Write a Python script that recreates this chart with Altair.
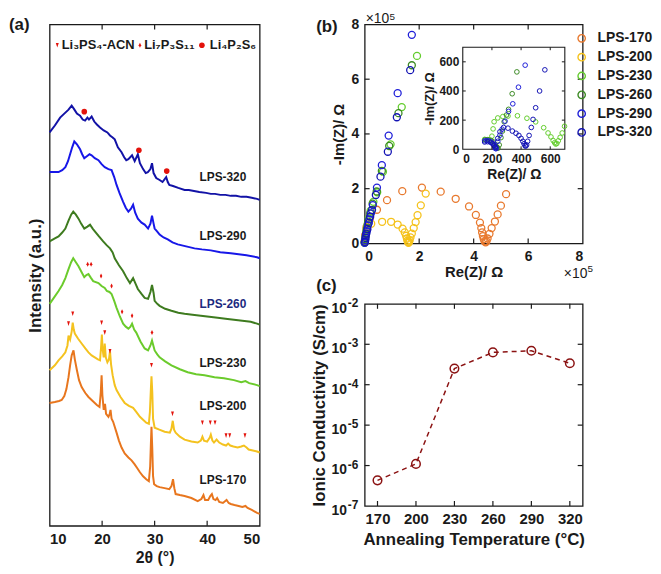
import altair as alt
import pandas as pd

FONT = "Liberation Sans"
INK = "#1a1a1a"
RED = "#E3120B"

# ---------------- (a) XRD patterns: (2theta, intensity a.u.) ----------------
xrd_series = ["LPS-170", "LPS-200", "LPS-230", "LPS-260", "LPS-290", "LPS-320"]
xrd_colors = ["#E8761E", "#F4C21F", "#6BCB2C", "#3E7B1F", "#1717E8", "#1212A6"]

lps170 = [(10.0,124),(11.0,125),(11.8,126),(12.3,127),(12.8,131),(13.2,138),(13.6,150),(13.9,162),(14.2,172),(14.55,177),(14.8,168),(15.2,157),(15.6,147),(16.1,140),(16.8,134),(17.4,130),(18.2,126),(19.0,122),(19.5,120),(19.75,135),(19.9,152),(20.05,132),(20.3,117),(20.55,123),(20.75,113),(21.2,110),(21.45,113),(21.6,117),(21.8,108),(22.1,105),(22.75,94),(23.2,86),(23.7,79),(24.3,73),(25.0,69),(25.6,66),(26.2,62),(26.7,58),(27.2,54),(27.8,50),(28.4,47),(28.9,45),(29.15,60),(29.3,85),(29.4,100),(29.55,78),(29.7,50),(29.9,42),(30.4,40),(30.95,39),(31.9,38),(32.8,37),(33.2,40),(33.5,47),(33.75,38),(34.0,32),(34.8,31),(35.7,30),(37.0,28),(38.2,25),(38.9,27),(39.3,31),(39.6,26),(40.2,26),(40.6,30),(40.9,32),(41.2,27),(41.6,26),(41.9,28),(42.3,24),(43.0,23),(43.7,26),(44.1,23),(44.5,22),(45.2,21),(46.0,20),(46.7,19),(47.3,20),(47.7,18),(48.5,16),(49.5,13),(50.0,12)]
lps200 = [(10.0,157),(11.0,162),(11.7,167),(12.4,171),(13.0,175),(13.4,182),(13.6,192),(13.9,188),(14.2,196),(14.4,205),(14.6,198),(14.8,194),(15.4,189),(16.1,184),(16.8,179),(17.4,175),(18.0,172),(18.6,170),(19.2,168),(19.6,167),(19.8,180),(19.95,193),(20.1,178),(20.3,170),(20.5,184),(20.7,170),(21.0,165),(21.3,168),(21.5,176),(21.7,163),(22.0,152),(22.4,142),(22.75,137),(23.5,130),(24.3,124),(25.1,121),(25.9,119),(26.5,115),(27.2,110),(27.8,107),(28.4,104),(28.9,103),(29.1,115),(29.3,140),(29.4,151),(29.55,135),(29.7,108),(30.0,99),(30.9,97),(31.9,95),(32.9,94),(33.2,98),(33.45,106),(33.7,97),(34.0,94),(34.8,90),(35.7,87),(37.0,85),(38.2,84),(38.8,86),(39.1,90),(39.4,86),(40.0,85),(40.5,89),(40.7,92),(41.0,86),(41.3,84),(41.8,87),(42.3,84),(43.0,82),(43.6,81),(44.0,83),(44.4,81),(45.0,80),(45.8,79),(46.5,80),(47.0,81),(47.5,79),(47.9,77),(48.7,76),(49.5,75),(50.0,74)]
lps230 = [(10.0,224),(10.8,230),(11.7,237),(12.4,243),(13.0,250),(13.6,259),(14.1,266),(14.5,270),(15.0,266),(15.5,262),(16.0,257),(16.6,251),(17.0,253),(17.4,254),(17.9,250),(18.3,247),(19.3,245),(19.9,242),(20.5,240),(20.9,237),(21.4,236),(21.8,234),(22.3,227),(22.75,220),(23.4,211),(24.0,204),(24.5,201),(25.0,199),(25.4,201),(25.7,204),(26.1,198),(26.5,195),(27.3,186),(28.1,179),(28.75,177),(29.2,182),(29.5,187),(29.8,181),(30.0,177),(30.5,173),(30.95,170),(32.0,166),(33.2,162),(34.8,158),(36.3,155),(37.9,153),(39.5,152),(41.4,150),(43.2,149),(45.1,147),(46.5,145),(47.3,146),(48.0,144),(49.5,142),(50.0,141)]
lps260 = [(10.0,287),(11.0,290),(11.7,292),(12.4,296),(13.0,300),(13.6,308),(14.1,314),(14.5,317),(15.0,314),(15.5,310),(16.0,305),(16.6,300),(17.2,302),(17.7,304),(18.2,300),(18.65,297),(19.4,292),(20.2,287),(20.9,283),(21.5,280),(22.0,276),(22.4,270),(23.2,263),(24.0,257),(24.7,250),(25.3,245),(25.9,250),(26.4,244),(26.8,239),(27.5,234),(28.1,230),(28.75,229),(29.2,236),(29.5,243),(29.8,235),(30.0,227),(30.5,224),(30.95,222),(32.0,219),(33.2,217),(34.5,215),(35.7,214),(37.2,213),(38.8,212),(40.4,211),(42.0,210),(43.5,209),(45.1,208),(46.7,207),(48.3,206),(49.5,204),(50.0,203)]
lps290 = [(10.0,357),(11.0,357),(11.7,357),(12.4,359),(13.0,362),(13.5,368),(13.9,375),(14.3,382),(14.7,388),(15.2,385),(15.8,380),(16.2,375),(16.6,371),(17.1,373),(17.6,375),(18.0,374),(18.6,371),(19.3,369),(19.9,365),(20.5,362),(21.2,360),(21.8,359),(22.3,352),(22.75,344),(23.3,336),(24.0,327),(24.5,321),(25.0,317),(25.5,320),(25.9,324),(26.3,316),(26.8,310),(27.5,306),(28.1,304),(28.75,300),(29.2,305),(29.5,313),(29.8,305),(30.0,300),(30.5,297),(30.95,294),(31.7,291),(32.5,289),(33.4,286),(34.4,284),(36.0,282),(37.6,280),(39.0,279),(40.7,278),(42.5,276),(44.5,275),(46.0,274),(47.5,273),(49.5,271),(50.0,270)]
lps320 = [(10.0,397),(11.0,404),(12.0,412),(13.0,417),(13.6,420),(14.2,424),(14.6,421),(15.2,416),(15.8,414),(16.3,410),(16.75,409),(17.2,412),(17.5,410),(18.0,413),(18.5,408),(19.0,405),(19.6,402),(20.3,399),(21.0,397),(21.5,394),(22.0,392),(22.4,390),(23.0,382),(23.7,377),(24.2,372),(24.6,369),(25.0,370),(25.7,374),(26.2,368),(26.8,375),(27.2,366),(27.8,360),(28.3,356),(28.7,357),(29.2,360),(29.5,366),(29.8,356),(30.3,351),(30.95,349),(31.5,347),(32.2,352),(32.5,347),(32.8,344),(33.5,343),(34.5,341),(35.7,339),(36.5,339),(37.5,338),(38.5,337),(39.8,336),(40.7,335),(41.5,335),(42.5,334),(43.5,334),(44.5,333),(45.5,333),(46.5,332),(47.5,332),(48.5,331),(49.5,330),(50.0,329)]
xrd_curves = [lps170, lps200, lps230, lps260, lps290, lps320]

xrd_label_theta = [43.0, 43.0, 43.0, 43.0, 43.0, 43.0]
xrd_label_y = [46, 121, 164, 224, 292, 352]
xrd_label_color = [INK, INK, INK, "#1c2a80", INK, INK]

tri_marks = [(13.6,204),(14.4,214),(19.9,205),(20.5,195),(21.5,176),(29.4,162),(33.4,113),(39.1,104),(40.6,104),(41.5,104),(43.6,91),(44.3,91),(47.2,91)]
dia_marks = [(17.25,264),(17.9,264),(19.8,252),(21.8,242),(23.8,216),(25.7,212),(29.5,195)]
dot_marks = [(16.6,418),(27.0,379),(32.3,358)]

phase_names = ["Li₃PS₄-ACN", "Li₇P₃S₁₁", "Li₄P₂S₆"]
phase_marker_theta = [11.46, 27.2, 39.0]
phase_text_theta = [12.3, 28.0, 40.5]
phase_row_y = [485, 485, 485]
a_tick_values = [20, 30, 40]

# ---------------- (b) Nyquist plots ----------------
eis_series = ["LPS-170", "LPS-200", "LPS-230", "LPS-260", "LPS-290", "LPS-320"]
eis_colors = ["#E8792E", "#F5C21B", "#63CC2D", "#3C8A24", "#1F1FD8", "#1414B4"]
# main plot, units of 1e5 ohm
b170 = [(0.00,0.08),(0.02,0.30),(0.07,0.60),(0.20,0.95),(0.45,1.23),(0.82,1.58),(1.38,1.91),(2.10,2.04),(2.79,1.89),(3.34,1.63),(3.83,1.35),(4.08,1.04),(4.23,0.76),(4.28,0.56),(4.31,0.40),(4.34,0.27),(4.37,0.16),(4.40,0.08),(4.44,0.04),(4.47,0.08),(4.51,0.18),(4.58,0.35),(4.66,0.56),(4.78,0.80),(4.88,1.06),(5.00,1.38),(5.19,1.80)]
b200 = [(0.00,0.05),(0.02,0.25),(0.06,0.50),(0.24,0.72),(0.64,0.79),(0.97,0.79),(1.21,0.69),(1.39,0.54),(1.47,0.40),(1.52,0.28),(1.55,0.18),(1.57,0.10),(1.59,0.05),(1.61,0.02),(1.63,0.06),(1.65,0.12),(1.68,0.22),(1.73,0.36),(1.80,0.56),(1.87,0.78),(1.94,1.03),(2.06,1.39),(2.24,1.82)]
b230 = [(0.00,0.02),(0.01,0.10),(0.03,0.25),(0.06,0.45),(0.10,0.68),(0.15,0.92),(0.22,1.20),(0.32,1.52),(0.46,1.87),(0.67,2.62),(0.95,3.62),(1.36,4.98),(1.92,6.85)]
b260 = [(0.00,0.03),(0.02,0.15),(0.05,0.35),(0.08,0.55),(0.13,0.80),(0.20,1.10),(0.29,1.45),(0.44,1.90),(0.63,2.65),(0.90,3.56),(1.24,4.76),(1.73,6.51)]
b290 = [(0.00,0.02),(0.02,0.12),(0.04,0.28),(0.08,0.45),(0.12,0.66),(0.17,0.88),(0.23,1.10),(0.30,1.40),(0.45,2.04),(0.63,2.86),(0.88,3.94),(1.21,5.49),(1.73,7.62)]
b320 = [(0.01,0.06),(0.03,0.20),(0.06,0.36),(0.10,0.52),(0.15,0.75),(0.20,0.98),(0.27,1.22),(0.41,1.77),(0.58,2.44),(0.85,3.35),(1.18,4.61),(1.67,6.33)]
eis_main = [b170, b200, b230, b260, b290, b320]
# inset, units of ohm
i230 = [(150,68),(170,66),(188,62),(200,90),(208,140),(215,189),(240,215),(275,225),(310,228),(375,230),(440,213),(500,188),(555,148),(585,112),(605,85),(620,60),(630,45),(638,36),(645,40),(655,58),(668,82),(682,112),(698,158)]
i260 = [(155,65),(175,65),(195,60),(210,50),(222,35),(230,20),(236,10),(242,8),(250,30),(262,80),(272,125),(284,189),(300,235),(314,274),(339,381),(371,531)]
i290 = [(150,58),(165,60),(180,57),(195,50),(207,38),(215,25),(220,14),(224,6),(228,4),(240,55),(255,97),(270,138),(290,193),(314,260),(343,312),(382,426),(428,577)]
i320 = [(150,50),(170,52),(190,48),(205,38),(215,28),(222,18),(228,12),(240,75),(255,120),(280,150),(310,145),(340,125),(365,110),(385,95),(400,75),(412,55),(420,38),(427,25),(432,22),(438,30),(445,55),(455,95),(470,150),(482,205),(500,285),(527,400),(563,545)]
eis_inset = {"LPS-230": i230, "LPS-260": i260, "LPS-290": i290, "LPS-320": i320}
b_tick_values = [2, 4, 6]
inset_domain = [0, 700]
inset_tick_values = [200, 400, 600]

# ---------------- (c) conductivity ----------------
temps = [170, 200, 230, 260, 290, 320]
sigma = [4.3e-7, 1.1e-6, 2.5e-4, 6.3e-4, 6.9e-4, 3.4e-4]
decades = [1e-7, 1e-6, 1e-5, 1e-4, 1e-3, 1e-2]
decade_exps = ["-7", "-6", "-5", "-4", "-3", "-2"]
c_inner_decades = [1e-6, 1e-5, 1e-4, 1e-3]

# ======================= build =======================
W_A, H_A = 212, 506
W_B, H_B = 220, 221
W_C, H_C = 220, 204
IN_L, IN_R, IN_B, IN_T = 99, 202, 126, 23   # inset frame inside panel (b)

TRI = "M-0.38,-0.6L0.38,-0.6L0,0.6Z"
DIA = "M0,-0.65L0.32,0L0,0.65L-0.32,0Z"

# ---- panel (a)
df_xrd = pd.DataFrame([{"s": n, "th": t, "inten": v} for n, c in zip(xrd_series, xrd_curves) for t, v in c])
sx_a = alt.Scale(domain=[10, 50], nice=False, zero=False)
sy_a = alt.Scale(domain=[0, H_A], nice=False, zero=False)
xa = alt.X("th:Q", scale=sx_a, axis=alt.Axis(values=[10, 20, 30, 40, 50], title="2θ (°)",
           labelFontSize=15, titleFontSize=16, labelPadding=6, titlePadding=3))
ya = alt.Y("inten:Q", scale=sy_a, axis=alt.Axis(labels=False, title="Intensity (a.u.)",
           titleFontSize=17, titlePadding=5))

a_lines = alt.Chart(df_xrd).mark_line(strokeWidth=2).encode(
    x=xa, y=ya,
    color=alt.Color("s:N", scale=alt.Scale(domain=xrd_series, range=xrd_colors), legend=None))

df_tri = pd.DataFrame([{"th": t, "inten": v} for t, v in tri_marks] +
                      [{"th": phase_marker_theta[0], "inten": phase_row_y[0]}])
df_dia = pd.DataFrame([{"th": t, "inten": v} for t, v in dia_marks] +
                      [{"th": phase_marker_theta[1], "inten": phase_row_y[1]}])
df_dot = pd.DataFrame([{"th": t, "inten": v} for t, v in dot_marks] +
                      [{"th": phase_marker_theta[2], "inten": phase_row_y[2]}])
a_tri = alt.Chart(df_tri).mark_point(shape=TRI, filled=True, color=RED, size=60, opacity=1, strokeWidth=0).encode(x=xa, y=ya)
a_dia = alt.Chart(df_dia).mark_point(shape=DIA, filled=True, color=RED, size=60, opacity=1, strokeWidth=0).encode(x=xa, y=ya)
a_dot = alt.Chart(df_dot).mark_point(shape="circle", filled=True, color=RED, size=32, opacity=1, strokeWidth=0).encode(x=xa, y=ya)

df_phase = pd.DataFrame({"th": phase_text_theta, "inten": phase_row_y, "t": phase_names})
a_phase = alt.Chart(df_phase).mark_text(align="left", baseline="middle", fontSize=13, fontWeight="bold", color=INK).encode(
    x=xa, y=ya, text="t:N")

df_alab = pd.DataFrame({"th": xrd_label_theta, "inten": xrd_label_y, "t": xrd_series, "c": xrd_label_color})
a_labels = alt.Chart(df_alab).mark_text(align="center", baseline="middle", fontSize=12, fontWeight="bold").encode(
    x=xa, y=ya, text="t:N", color=alt.Color("c:N", scale=None))

df_atk = pd.DataFrame({"th": a_tick_values})
a_tk_b = alt.Chart(df_atk).mark_rule(color=INK, strokeWidth=1.2).encode(x=xa, y=alt.value(H_A), y2=alt.value(H_A - 5))
a_tk_t = alt.Chart(df_atk).mark_rule(color=INK, strokeWidth=1.2).encode(x=xa, y=alt.value(0), y2=alt.value(5))
a_tag = alt.Chart(pd.DataFrame({"t": ["(a)"]})).mark_text(align="left", baseline="middle", fontSize=17, fontWeight="bold", color=INK).encode(
    x=alt.value(-41), y=alt.value(1), text="t:N")

panel_a = alt.layer(a_lines, a_tri, a_dia, a_dot, a_phase, a_labels, a_tk_b, a_tk_t, a_tag).properties(width=W_A, height=H_A)

# ---- panel (b)
df_b = pd.DataFrame([{"s": n, "x": x, "y": y} for n, pts in zip(eis_series, eis_main) for x, y in pts])
df_bi = pd.DataFrame([{"s": n, "x": x, "y": y} for n, pts in eis_inset.items() for x, y in pts])

xb = alt.X("x:Q", scale=alt.Scale(domain=[0, 8], nice=False, zero=False),
           axis=alt.Axis(values=[0, 2, 4, 6, 8], title="Re(Z)/ Ω", labelFontSize=14, titleFontSize=15,
                         labelPadding=6, titlePadding=1))
yb = alt.Y("y:Q", scale=alt.Scale(domain=[0, 8], nice=False, zero=False),
           axis=alt.Axis(values=[0, 2, 4, 6, 8], title="-Im(Z)/ Ω", labelFontSize=14, titleFontSize=15,
                         labelPadding=6, titleX=-18))
col_b = alt.Color("s:N", scale=alt.Scale(domain=eis_series, range=eis_colors),
                  legend=alt.Legend(orient="none", legendX=212, legendY=7, title=None, symbolType="circle",
                                    symbolSize=55, symbolStrokeWidth=1.4, labelFontSize=14, labelFontWeight="bold",
                                    labelFont=FONT, labelColor=INK, rowPadding=5, labelOffset=9, padding=0))

b_pts = alt.Chart(df_b).mark_point(filled=False, size=50, strokeWidth=1.3, opacity=1).encode(x=xb, y=yb, color=col_b)
df_btx = pd.DataFrame({"x": b_tick_values})
df_bty = pd.DataFrame({"y": b_tick_values})
b_tk = [
    alt.Chart(df_btx).mark_rule(color=INK, strokeWidth=1.2).encode(x=xb, y=alt.value(H_B), y2=alt.value(H_B - 5)),
    alt.Chart(df_btx).mark_rule(color=INK, strokeWidth=1.2).encode(x=xb, y=alt.value(0), y2=alt.value(5)),
    alt.Chart(df_bty).mark_rule(color=INK, strokeWidth=1.2).encode(y=yb, x=alt.value(0), x2=alt.value(5)),
    alt.Chart(df_bty).mark_rule(color=INK, strokeWidth=1.2).encode(y=yb, x=alt.value(W_B - 5), x2=alt.value(W_B)),
]
df_x10 = pd.DataFrame({"t": ["×10"], "e": ["5"]})
b_x10 = [
    alt.Chart(df_x10).mark_text(align="left", baseline="alphabetic", fontSize=14, color=INK).encode(x=alt.value(1), y=alt.value(-1), text="t:N"),
    alt.Chart(df_x10).mark_text(align="left", baseline="alphabetic", fontSize=10, color=INK).encode(x=alt.value(25), y=alt.value(-5), text="e:N"),
    alt.Chart(df_x10).mark_text(align="left", baseline="alphabetic", fontSize=14, color=INK).encode(x=alt.value(201), y=alt.value(256), text="t:N"),
    alt.Chart(df_x10).mark_text(align="left", baseline="alphabetic", fontSize=10, color=INK).encode(x=alt.value(225), y=alt.value(250), text="e:N"),
]
b_tag = alt.Chart(pd.DataFrame({"t": ["(b)"]})).mark_text(align="left", baseline="middle", fontSize=17, fontWeight="bold", color=INK).encode(
    x=alt.value(-49), y=alt.value(3), text="t:N")

main_b = alt.layer(b_pts, *b_tk, *b_x10, b_tag)

xi = alt.X("x:Q", scale=alt.Scale(domain=inset_domain, range=[IN_L, IN_R], nice=False, zero=False),
           axis=alt.Axis(values=[0, 200, 400, 600], orient="bottom", offset=-(H_B - IN_B), title="Re(Z)/ Ω",
                         labelFontSize=12, titleFontSize=14, labelPadding=4, titlePadding=3))
yi = alt.Y("y:Q", scale=alt.Scale(domain=inset_domain, range=[IN_B, IN_T], nice=False, zero=False),
           axis=alt.Axis(values=[0, 200, 400, 600], orient="left", offset=-IN_L, title="-Im(Z)/ Ω",
                         labelFontSize=12, titleFontSize=13, labelPadding=4, titlePadding=3))
df_box = pd.DataFrame({"x": [inset_domain[0]], "x2": [inset_domain[1]], "y": [inset_domain[0]], "y2": [inset_domain[1]]})
i_box = alt.Chart(df_box).mark_rect(fill="white", stroke=INK, strokeWidth=1.1).encode(x=xi, x2="x2:Q", y=yi, y2="y2:Q")
i_pts = alt.Chart(df_bi).mark_point(filled=False, size=22, strokeWidth=1.0, opacity=1).encode(x=xi, y=yi, color=col_b)
df_itx = pd.DataFrame({"x": inset_tick_values})
df_ity = pd.DataFrame({"y": inset_tick_values})
i_tk = [
    alt.Chart(df_itx).mark_rule(color=INK, strokeWidth=1).encode(x=xi, y=alt.value(IN_B), y2=alt.value(IN_B - 3)),
    alt.Chart(df_itx).mark_rule(color=INK, strokeWidth=1).encode(x=xi, y=alt.value(IN_T), y2=alt.value(IN_T + 3)),
    alt.Chart(df_ity).mark_rule(color=INK, strokeWidth=1).encode(y=yi, x=alt.value(IN_L), x2=alt.value(IN_L + 3)),
    alt.Chart(df_ity).mark_rule(color=INK, strokeWidth=1).encode(y=yi, x=alt.value(IN_R - 3), x2=alt.value(IN_R)),
]
inset_b = alt.layer(i_box, i_pts, *i_tk)

panel_b = alt.layer(main_b, inset_b).resolve_scale(x="independent", y="independent").properties(width=W_B, height=H_B)

# ---- panel (c)
CRED = "#8B1212"
df_c = pd.DataFrame({"T": temps, "cond": sigma})
xc = alt.X("T:Q", scale=alt.Scale(domain=[160, 330], nice=False, zero=False),
           axis=alt.Axis(values=temps, title="Annealing Temperature (°C)", labelFontSize=15, titleFontSize=17,
                         labelPadding=6, titlePadding=5))
yc = alt.Y("cond:Q", scale=alt.Scale(type="log", domain=[1e-7, 1e-2], nice=False),
           axis=alt.Axis(labels=False, title="Ionic Conductivity (S/cm)", titleFontSize=17, titlePadding=37))
c_line = alt.Chart(df_c).mark_line(color=CRED, strokeWidth=1.5, strokeDash=[5, 4]).encode(x=xc, y=yc)
c_pts = alt.Chart(df_c).mark_point(filled=False, color=CRED, size=75, strokeWidth=1.5, opacity=1).encode(x=xc, y=yc)
df_ctx = pd.DataFrame({"T": temps})
df_cty = pd.DataFrame({"cond": c_inner_decades})
c_tk = [
    alt.Chart(df_ctx).mark_rule(color=INK, strokeWidth=1.2).encode(x=xc, y=alt.value(H_C), y2=alt.value(H_C - 5)),
    alt.Chart(df_ctx).mark_rule(color=INK, strokeWidth=1.2).encode(x=xc, y=alt.value(0), y2=alt.value(5)),
    alt.Chart(df_cty).mark_rule(color=INK, strokeWidth=1.2).encode(y=yc, x=alt.value(0), x2=alt.value(5)),
    alt.Chart(df_cty).mark_rule(color=INK, strokeWidth=1.2).encode(y=yc, x=alt.value(W_C - 5), x2=alt.value(W_C)),
]
df_dec = pd.DataFrame({"cond": decades, "e": decade_exps, "b": ["10"] * len(decades)})
c_lab10 = alt.Chart(df_dec).mark_text(align="right", baseline="middle", fontSize=14, fontWeight="bold", color=INK, dy=5).encode(
    y=yc, x=alt.value(-18), text="b:N")
c_labexp = alt.Chart(df_dec).mark_text(align="left", baseline="middle", fontSize=12, fontWeight="bold", color=INK, dy=-1).encode(
    y=yc, x=alt.value(-17), text="e:N")
c_tag = alt.Chart(pd.DataFrame({"t": ["(c)"]})).mark_text(align="left", baseline="middle", fontSize=17, fontWeight="bold", color=INK).encode(
    x=alt.value(-49), y=alt.value(-18), text="t:N")

panel_c = alt.layer(c_line, c_pts, *c_tk, c_lab10, c_labexp, c_tag).properties(width=W_C, height=H_C)

right = alt.vconcat(panel_b, panel_c, spacing=61, bounds="flush").resolve_scale(x="independent", y="independent")
chart = alt.hconcat(panel_a, right, spacing=106, bounds="flush").resolve_scale(
    x="independent", y="independent", color="independent")

chart = chart.properties(padding=0).configure(font=FONT).configure_view(
    stroke=INK, strokeWidth=1.3).configure_axis(
    grid=False, ticks=False, domain=False, labelFont=FONT, titleFont=FONT,
    labelFontWeight="bold", titleFontWeight="bold", labelColor=INK, titleColor=INK).configure_text(font=FONT)

chart.save("out.html", embed_options={"renderer": "svg", "actions": False})
